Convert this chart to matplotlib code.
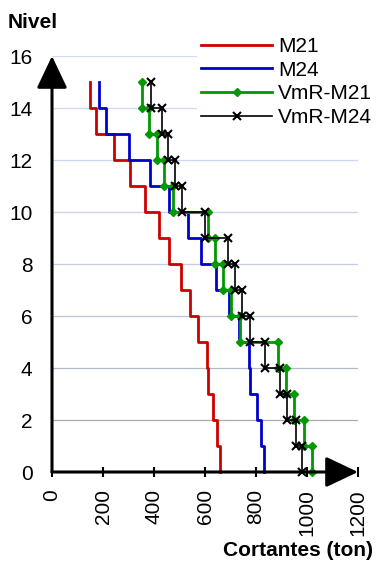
import matplotlib
matplotlib.use('Agg')
import matplotlib.pyplot as plt
import numpy as np

plt.rcParams['font.family'] = 'Liberation Sans'
plt.rcParams['font.size'] = 15

######### Data #########
levels = [15, 14, 13, 12, 11, 10, 9, 8, 7, 6, 5, 4, 3, 2, 1]
m21 = [150, 173, 244, 306, 365, 420, 459, 505, 541, 571, 606, 612, 633, 646, 657]
m24 = [186, 211, 302, 385, 460, 532, 584, 643, 695, 734, 773, 776, 805, 821, 832]
vmr_m21 = [351, 382, 411, 441, 473, 610, 641, 672, 702, 737, 887, 917, 950, 987, 1019]
vmr_m24 = [387, 430, 455, 482, 508, 600, 691, 717, 746, 776, 837, 893, 922, 956, 980]

x_ticks = [0, 200, 400, 600, 800, 1000, 1200]
y_ticks = [0, 2, 4, 6, 8, 10, 12, 14, 16]


def steps(values, levels):
    # each storey: vertical segment from level to level-1 at its shear value
    x = np.repeat(values, 2)
    y = np.ravel([[lv, lv - 1] for lv in levels])
    return x, y


W, H = 376, 565
fig = plt.figure(figsize=(W / 100, H / 100), dpi=100)
ax = fig.add_axes([52 / W, 93 / H, 306 / W, 416 / H])

# horizontal grid, light blue at top fading to grey at bottom
grid_cols = ['#a9abb3', '#b3b8c6', '#bcc4d8', '#c3cde3', '#c8d3ea',
             '#cbd7ee', '#cddaf1', '#cfdcf3']
for yv, c in zip(y_ticks[1:], grid_cols):
    ax.axhline(yv, color=c, lw=0.9, zorder=0)

x, y = steps(m21, levels)
ax.plot(x, y, color='#cc0000', lw=2.0, label='M21', clip_on=False)
x, y = steps(m24, levels)
ax.plot(x, y, color='#0000cc', lw=2.0, label='M24', clip_on=False)
x, y = steps(vmr_m21, levels)
ax.plot(x, y, color='#009900', lw=2.0, marker='D', ms=4.3, label='VmR-M21',
        clip_on=False)
x, y = steps(vmr_m24, levels)
ax.plot(x, y, color='black', lw=1.2, marker='x', ms=5.2, mew=1.5,
        label='VmR-M24', clip_on=False)

ax.set_xlim(0, 1200)
ax.set_ylim(0, 16)
for s in ax.spines.values():
    s.set_visible(False)

# axes drawn as arrows
arrow = dict(arrowstyle='-|>,head_length=0.95,head_width=0.45', lw=2.2,
             color='black', shrinkA=0, shrinkB=0, mutation_scale=21)
ax.annotate('', xy=(0, 16), xytext=(0, 0), arrowprops=arrow,
            annotation_clip=False)
ax.annotate('', xy=(1200, 0), xytext=(0, 0), arrowprops=arrow,
            annotation_clip=False)

ax.set_xticks(x_ticks)
ax.set_xticklabels([str(t) for t in x_ticks], rotation=90)
ax.set_yticks(y_ticks)
ax.tick_params(axis='x', direction='inout', length=7, width=1.5, pad=9)
ax.tick_params(axis='y', length=0, pad=14)

leg = ax.legend(loc='upper left', bbox_to_anchor=(197 / W, 1 - 33 / H),
                bbox_transform=fig.transFigure, frameon=True, framealpha=1,
                edgecolor='none', fancybox=False, borderpad=0.2,
                handlelength=3.4, handletextpad=0.3, labelspacing=0.22,
                borderaxespad=0)

fig.text(8 / W, 1 - 22 / H, 'Nivel', fontweight='bold', ha='left', va='center')
fig.text(373 / W, 1 - 550 / H, 'Cortantes (ton)', fontweight='bold',
         ha='right', va='center')

fig.savefig('out.png', dpi=100)
